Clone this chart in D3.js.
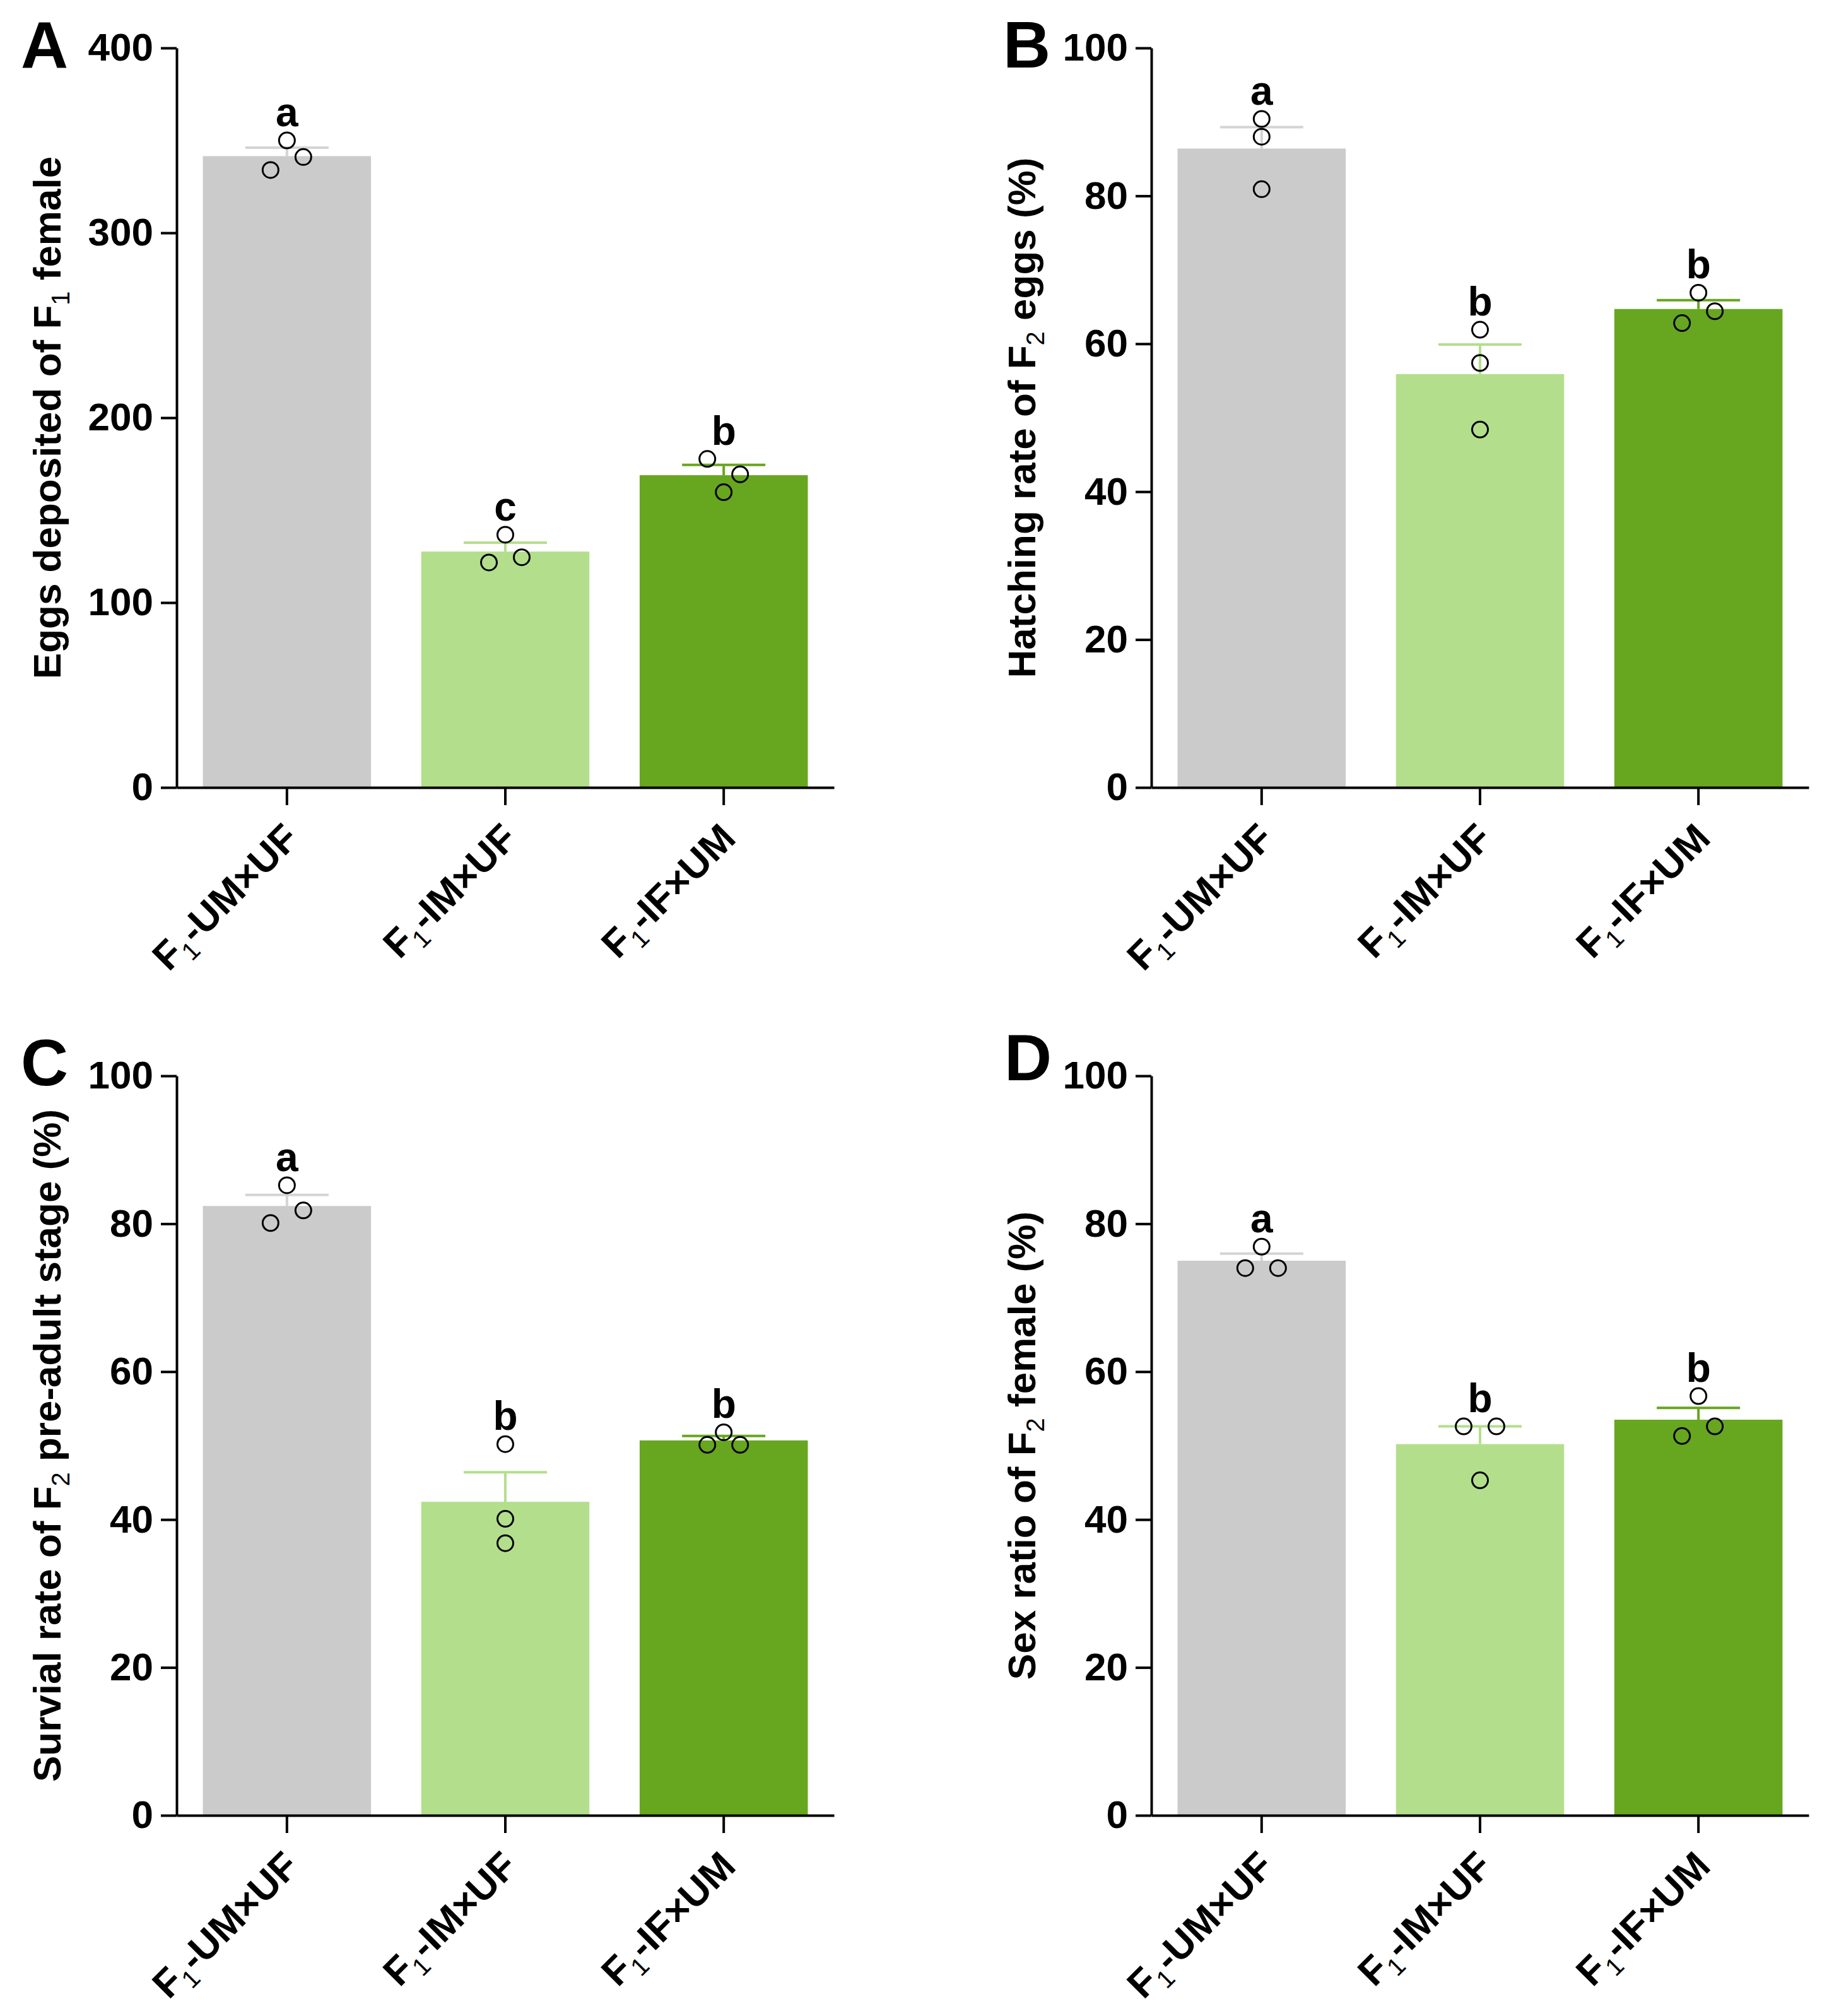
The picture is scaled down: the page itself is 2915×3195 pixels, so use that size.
<!DOCTYPE html>
<html lang="en">
<head>
    <meta charset="UTF-8">
    <title>F1 crosses</title>
    <script src="https://cdn.jsdelivr.net/npm/d3@7"></script>
    <style>
        body{margin:0;background:#fff}
        text{font-family:"Liberation Sans",Arial,sans-serif;font-weight:bold;fill:#000}
    </style>
</head>
<body>
<div class="chart"></div>
<script>
    // groups (every label starts with "F" + subscript 1)
    let categories=['-UM×UF','-IM×UF','-IF×UM']

    // A: eggs deposited
    let eggsMean=[341.5,127.6,168.9]
    let eggsSem=[4.6,4.8,5.6]
    let eggsPoints=[[334,350,341],[121.7,136.7,124.5],[177.7,159.7,169.4]]
    let eggsLetters=['a','c','b']
    let eggsTicks=[0,100,200,300,400]

    // B: hatching rate
    let hatchMean=[86.4,55.9,64.7]
    let hatchSem=[2.9,4.0,1.2]
    let hatchPoints=[[90.4,88.0,80.9],[61.9,57.4,48.4],[62.8,66.9,64.4]]
    let hatchLetters=['a','b','b']

    // C: survival rate
    let survMean=[82.4,42.4,50.7]
    let survSem=[1.5,4.0,0.6]
    let survPoints=[[80.1,85.2,81.8],[50.2,40.1,36.8],[50.1,51.8,50.1]]
    let survLetters=['a','b','b']

    // D: sex ratio
    let sexMean=[75.0,50.2,53.5]
    let sexSem=[0.97,2.4,1.6]
    let sexPoints=[[74.0,76.9,74.0],[52.6,45.3,52.6],[51.3,56.7,52.6]]
    let sexLetters=['a','b','b']

    let pctTicks=[0,20,40,60,80,100]

    let barColors=['#cbcbcb','#b3df8c','#67a61f']
    let capColors=['#d4d4d4','#b3df8c','#67a61f']

    let W=2915,H=3195
    let plotW=1042,plotH=1172
    let r=12.5,jit=26

    let svg=d3.select('.chart').append('svg').attr('width',W).attr('height',H)
    svg.append('rect').attr('width',W).attr('height',H).attr('fill','#fff')

    // write text with "_1" style subscripts
    function subText(sel,str,subSize,shift){
        let parts=str.split(/_(\d)/)
        parts.forEach((p,i)=>{
            if(!p) return
            let t=sel.append('tspan').text(p)
            if(i%2===1) t.attr('font-size',subSize).attr('font-weight','normal').attr('dy',shift)
            else if(i>0) t.attr('dy',-shift)
        })
    }

    // pairs of points that overlap go left/right, the rest stay in the middle
    function slots(vals,y){
        let s=vals.map(()=>null)
        let pairs=[]
        for(let i=0;i<vals.length;i++)for(let j=i+1;j<vals.length;j++)
            pairs.push([i,j,Math.abs(y(vals[i])-y(vals[j]))])
        pairs.sort((a,b)=>a[2]-b[2])
        pairs.forEach(([i,j,d])=>{
            if(d<25.5&&s[i]===null&&s[j]===null){s[i]=-1;s[j]=1}
        })
        return s.map(v=>v===null?0:v)
    }

    function panel(o){
        let g=svg.append('g').attr('transform','translate('+o.x+','+o.y+')')
        let x=d3.scaleBand().domain(d3.range(categories.length)).range([0,plotW]).paddingInner(0.23).paddingOuter(0.12)
        let y=d3.scaleLinear().domain([0,d3.max(o.ticks)]).range([plotH,0])
        let cx=i=>x(i)+x.bandwidth()/2

        g.selectAll('rect.bar').data(o.mean).join('rect').attr('class','bar')
            .attr('x',(d,i)=>x(i)).attr('y',d=>y(d))
            .attr('width',x.bandwidth()).attr('height',d=>plotH-y(d))
            .attr('fill',(d,i)=>barColors[i])

        // upper error bars (SEM)
        o.mean.forEach((m,i)=>{
            let eb=g.append('g').attr('stroke',capColors[i]).attr('stroke-width',4)
            eb.append('line').attr('x1',cx(i)).attr('x2',cx(i)).attr('y1',y(m)).attr('y2',y(m+o.sem[i]))
            eb.append('line').attr('x1',cx(i)-66).attr('x2',cx(i)+66).attr('y1',y(m+o.sem[i])).attr('y2',y(m+o.sem[i]))
        })

        // individual points
        o.points.forEach((vals,i)=>{
            let s=slots(vals,y)
            g.selectAll('circle.p'+i).data(vals).join('circle').attr('class','p'+i)
                .attr('cx',(d,k)=>cx(i)+s[k]*jit).attr('cy',d=>y(d)).attr('r',r)
                .attr('fill','none').attr('stroke','#000').attr('stroke-width',3)
        })

        // significance letters
        o.letters.forEach((l,i)=>{
            let top=Math.min(y(d3.max(o.points[i]))-r,y(o.mean[i]+o.sem[i]))
            g.append('text').attr('x',cx(i)).attr('y',top-10).attr('text-anchor','middle')
                .attr('font-size',64).text(l)
        })

        let yAxis=d3.axisLeft(y).tickValues(o.ticks).tickSize(25).tickPadding(12).tickSizeOuter(0)
        let ya=g.append('g').call(yAxis)
        let xAxis=d3.axisBottom(x).tickSize(28).tickSizeOuter(0).tickFormat('')
        let xa=g.append('g').attr('transform','translate(0,'+plotH+')').call(xAxis)
        ;[ya,xa].forEach(a=>{
            a.select('.domain').attr('stroke','#000').attr('stroke-width',4)
            a.selectAll('.tick line').attr('stroke','#000').attr('stroke-width',4)
        })
        ya.selectAll('.tick text').attr('font-size',62).attr('font-family','"Liberation Sans",Arial,sans-serif')
            .attr('font-weight','bold').attr('fill','#000')

        // rotated group labels
        categories.forEach((c,i)=>{
            let t=g.append('text').attr('text-anchor','end').attr('font-size',62)
                .attr('transform','translate('+(cx(i)+22)+','+(plotH+84)+') rotate(-45)')
            subText(t,'F_1'+c,40,14)
        })

        // axis title
        let tt=g.append('text').attr('text-anchor','middle').attr('font-size',62)
            .attr('transform','translate(-184,'+(plotH/2)+') rotate(-90)')
        subText(tt,o.title,40,14)

        svg.append('text').attr('x',o.lx).attr('y',o.ly).attr('font-size',104).text(o.key)
    }

    panel({key:'A',x:280,y:76,lx:33,ly:107,ticks:eggsTicks,mean:eggsMean,sem:eggsSem,points:eggsPoints,letters:eggsLetters,title:'Eggs deposited of F_1 female'})
    panel({key:'B',x:1825,y:76,lx:1590,ly:107,ticks:pctTicks,mean:hatchMean,sem:hatchSem,points:hatchPoints,letters:hatchLetters,title:'Hatching rate of F_2 eggs (%)'})
    panel({key:'C',x:280,y:1705,lx:33,ly:1720,ticks:pctTicks,mean:survMean,sem:survSem,points:survPoints,letters:survLetters,title:'Survial rate of F_2 pre-adult stage (%)'})
    panel({key:'D',x:1825,y:1705,lx:1592,ly:1712,ticks:pctTicks,mean:sexMean,sem:sexSem,points:sexPoints,letters:sexLetters,title:'Sex ratio of F_2 female (%)'})
</script>
</body>
</html>
